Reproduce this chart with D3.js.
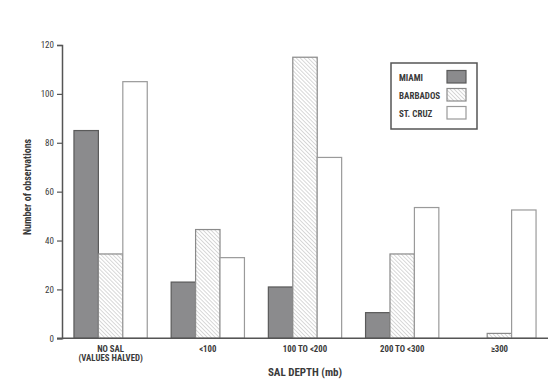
<!DOCTYPE html>
<html><head><meta charset="utf-8">
<script src="https://cdn.jsdelivr.net/npm/d3@7"></script>
<style>
body{margin:0;background:#fff;}
svg text{font-family:"Liberation Sans Narrow","Roboto Condensed","Arial Narrow","Liberation Sans",sans-serif;fill:#3a3a3a;}
</style></head>
<body><svg id="c" width="553" height="383"></svg>
<script>
const categories = ["NO SAL|(VALUES HALVED)", "<100", "100 TO <200", "200 TO <300", "\u2265300"];
const seriesNames = ["MIAMI", "BARBADOS", "ST. CRUZ"];
const miami = [85, 23, 21, 10.5, 0];
const barbados = [34.5, 44.5, 115, 34.5, 2];
const stCruz = [105, 33, 74, 53.5, 52.5];
const yTicks = [0, 20, 40, 60, 80, 100, 120];

(function(){
const svg = d3.select("#c");
const defs = svg.append("defs");
const pat = defs.append("pattern").attr("id","hatch").attr("patternUnits","userSpaceOnUse")
  .attr("width",2.8).attr("height",2.8).attr("patternTransform","rotate(-45)");
pat.append("rect").attr("width",2.8).attr("height",2.8).attr("fill","#fff");
pat.append("line").attr("x1",0).attr("y1",0).attr("x2",0).attr("y2",2.8).attr("stroke","#a8a8a8").attr("stroke-width",0.9);

const mLeft = 62, mRight = 548, mTop = 45, mBottom = 338.3;
const x = d3.scaleBand().domain(categories).range([mLeft, mRight]).paddingInner(0.246).paddingOuter(0.123);
const xs = d3.scaleBand().domain(seriesNames).range([0, x.bandwidth()]);
const y = d3.scaleLinear().domain([0,120]).range([mBottom, mTop]);

const series = [
  {name:"MIAMI", values:miami, fill:"#8b8b8d", stroke:"#5a5a5a"},
  {name:"BARBADOS", values:barbados, fill:"url(#hatch)", stroke:"#8a8a8a"},
  {name:"ST. CRUZ", values:stCruz, fill:"#fff", stroke:"#9a9a9a"}
];

series.forEach(s => {
  svg.append("g").selectAll("rect").data(categories.map((c,i)=>({c, v:s.values[i]})).filter(d=>d.v>0))
    .join("rect")
    .attr("x", d => x(d.c) + xs(s.name))
    .attr("y", d => y(d.v))
    .attr("width", xs.bandwidth())
    .attr("height", d => y(0) - y(d.v))
    .attr("fill", s.fill).attr("stroke", s.stroke).attr("stroke-width", 1.2);
});

const yAxis = svg.append("g").attr("transform", `translate(${mLeft},0)`)
  .call(d3.axisLeft(y).tickValues(yTicks).tickSize(5).tickPadding(3));
yAxis.select(".domain").attr("stroke","#555").attr("stroke-width",1.5);
yAxis.selectAll(".tick line").attr("stroke","#555").attr("stroke-width",1.2);
yAxis.selectAll(".tick text").attr("font-size",9).style("font-family",'"Liberation Sans Narrow","Roboto Condensed",sans-serif').attr("fill","#3a3a3a");

const xAxis = svg.append("g").attr("transform", `translate(0,${mBottom})`)
  .call(d3.axisBottom(x).tickSize(0).tickFormat(""));
xAxis.select(".domain").attr("stroke","#555").attr("stroke-width",1.5).attr("d", `M${mLeft-5},0H${mRight}`);

categories.forEach(c => {
  const lines = c.split("|");
  const t = svg.append("text").attr("x", x(c)+x.bandwidth()/2).attr("y", 352)
    .attr("text-anchor","middle").attr("font-size",8.8).attr("font-weight","bold");
  lines.forEach((l,i)=> t.append("tspan").attr("x", x(c)+x.bandwidth()/2).attr("dy", i?8.5:0).text(l));
});

svg.append("text").attr("x",305).attr("y",376).attr("text-anchor","middle")
  .attr("font-size",11).attr("font-weight","bold").text("SAL DEPTH (mb)");
svg.append("text").attr("transform","translate(31,187) rotate(-90)").attr("text-anchor","middle")
  .attr("font-size",10).attr("font-weight","bold").text("Number of observations");

const lg = svg.append("g");
lg.append("rect").attr("x",391).attr("y",63).attr("width",86).attr("height",66)
  .attr("fill","#fff").attr("stroke","#555").attr("stroke-width",1.5);
series.forEach((s,i) => {
  const yy = 70.5 + i*18;
  lg.append("rect").attr("x",447).attr("y",yy).attr("width",19).attr("height",12.5)
    .attr("fill",s.fill).attr("stroke",s.stroke).attr("stroke-width",1.2);
  lg.append("text").attr("x",399).attr("y",yy+10).attr("font-size",9).attr("font-weight","bold").text(s.name);
});
})();
</script></body></html>
